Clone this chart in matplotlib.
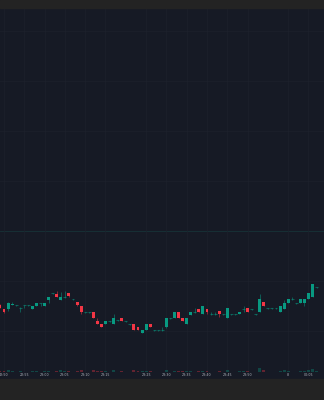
import numpy as np
import matplotlib.pyplot as plt
from matplotlib.patches import Rectangle

# 1-minute candles, minute 0 = 22:50
minutes = list(range(-1, 78))
opens = [95, 91, 91, 95, 95, 92, 94.5, 95, 91, 94, 96.5, 94, 100, 106.5, 106, 100, 103, 107, 101, 98,
         94, 88, 88, 88, 79, 76, 76, 79, 76, 80, 82, 79, 76, 76, 73, 67, 70, 76, 70, 70,
         70, 73, 82, 82, 88, 82, 76, 85, 88, 91, 86, 91, 86, 86, 89, 86, 82, 86, 86, 86,
         91, 92, 91, 86, 88, 98, 92, 92, 92, 88, 91, 97, 101, 97, 97, 97, 101, 103, 113]
highs = [96, 91, 98, 98, 95, 93, 95, 95, 94, 97, 97, 97, 103, 107, 109, 108, 109, 107, 101.5, 98,
         94, 88, 88.5, 88, 82, 76, 79, 79.5, 86, 80, 82, 79.5, 76.5, 76, 73, 70, 76, 76, 70.5, 70.5,
         73, 82, 82.5, 88, 88, 82, 82, 88, 92, 91, 94, 91, 88, 88, 89, 86.5, 92, 86.5, 86.5, 88,
         94, 92, 91.5, 86.5, 106, 98, 92.5, 92.5, 92.5, 94, 100, 101, 103, 97.5, 101, 101, 107, 116, 113.5]
lows = [92, 87, 89, 95, 94, 88, 92, 94.5, 91, 94, 94, 94, 97, 106, 103, 100, 102.5, 103, 100.5, 94,
        86, 87.5, 87.5, 82, 76, 73, 76, 78.5, 76, 79.5, 79, 78.5, 75.5, 70, 70, 67, 70, 73, 69.5, 69.5,
        69.5, 72, 81.5, 82, 82, 79, 76, 85, 87.5, 88, 86, 86, 85.5, 85.5, 83, 85.5, 82, 85.5, 85.5, 86,
        88, 88, 90.5, 85.5, 88, 94, 91.5, 91.5, 91.5, 88, 91, 97, 100.5, 96.5, 97, 94, 101, 103, 112.5]
closes = [92, 88, 97, 96, 95, 92.5, 95, 95, 94, 97, 97, 97, 103, 107, 103, 103, 103.5, 104, 101, 95,
          88, 88, 88, 82, 76, 73, 79, 79, 82, 80, 79, 79, 76, 70, 70, 70, 76, 73, 70, 70,
          70, 82, 82, 88, 82, 79, 82, 88, 88, 88, 94, 88, 86, 86, 86, 86, 92, 86, 86, 88,
          91, 88, 91, 86, 101, 94, 92, 92, 92, 94, 97, 101, 101, 97, 101, 101, 107, 116, 113]
volumes = [2, 3, 6, 2, 1, 2, 1, 1, 3, 3, 1, 3, 4, 1, 4, 5, 2, 4, 1, 4,
           6, 1, 1, 6, 4, 4, 3, 1, 5, 1, 3, 1, 1, 5, 3, 3, 4, 3, 1, 1,
           1, 6, 1, 4, 4, 3, 3, 3, 1, 2, 4, 3, 1, 1, 3, 1, 5, 1, 1, 2,
           2, 3, 1, 1, 12, 8, 1, 1, 1, 3, 5, 4, 1, 1, 4, 4, 5, 9, 2]

tick_min = [0, 5, 10, 15, 20, 25, 35, 40, 45, 50, 55, 60, 70, 75]
tick_lbl = ['22:50', '22:55', '23:00', '23:05', '23:10', '23:15', '23:25', '23:30',
            '23:35', '23:40', '23:45', '23:50', '8', '00:05']
grid_prices = [69, 119, 219, 269, 319, 369]
last_line = 169

UP = '#089981'
DOWN = '#f23645'
BG = '#161a25'
BAR = '#232323'

fig = plt.figure(figsize=(3.24, 4.0), dpi=100, facecolor=BG)
# top and bottom gray bars
fig.patches.append(Rectangle((0, 1 - 8 / 400), 1, 8 / 400, transform=fig.transFigure,
                             color=BAR, zorder=0))
fig.patches.append(Rectangle((0, 0), 1, 21 / 400, transform=fig.transFigure,
                             color=BAR, zorder=0))

ax = fig.add_axes([0, 28 / 400, 1, 364 / 400])
ax.set_facecolor(BG)
ax.set_xlim(-4 / 4.06, 320 / 4.06)
ax.set_ylim(28, 392)

o = np.array(opens, float)
c = np.array(closes, float)
h = np.array(highs, float)
l = np.array(lows, float)
x = np.array(minutes)
up = c >= o
cols = np.where(up, UP, DOWN)
doji = np.abs(c - o) < 1

ax.vlines(x, l, h, colors=cols, lw=0.5, alpha=0.7, zorder=3)
body = ~doji
ax.bar(x[body], np.abs(c - o)[body], bottom=np.minimum(o, c)[body], width=0.72,
       color=cols[body], lw=0, zorder=4)
ax.hlines(c[doji], x[doji] - 0.36, x[doji] + 0.36, colors=cols[doji], lw=0.8,
          alpha=0.55, zorder=4)

ax.set_xticks(tick_min)
ax.set_xticklabels(tick_lbl)
ax.set_yticks(grid_prices)
ax.tick_params(axis='x', length=0, pad=1.0, labelsize=2.3, colors='#b2b5be')
ax.tick_params(axis='y', length=0, labelleft=False)
ax.grid(True, color='#1d212c', lw=0.5)
ax.axhline(last_line, color='#173238', lw=0.6, zorder=1)
for s in ax.spines.values():
    s.set_visible(False)

# volume pane overlay
vax = ax.twinx()
vax.set_ylim(0, 1200)
vax.bar(x, volumes, width=0.72, color=cols, alpha=0.35, lw=0)
vax.axis('off')

fig.savefig('out.png', dpi=100, facecolor=BG)
